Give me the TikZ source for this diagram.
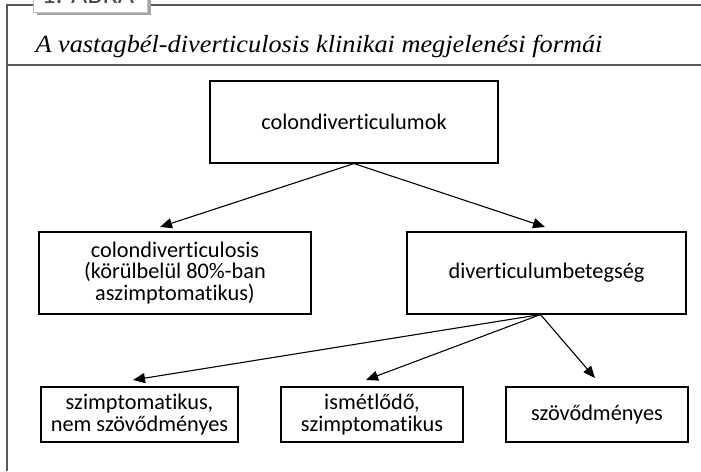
\documentclass[tikz,border=0pt]{standalone}
\usepackage{fontspec}
\setmainfont{Liberation Serif}
\newfontfamily\cimfont{Liberation Serif}[FakeStretch=1.065]
\newfontfamily\dobozfont{Carlito}[Ligatures=NoCommon]
\usetikzlibrary{arrows.meta}

\begin{document}
\begin{tikzpicture}[
            x=1pt, y=-1pt,
            doboz/.style={shape=rectangle, draw=black, line width=1.1pt, align=center, inner sep=0pt,
                font=\dobozfont\fontsize{22.3}{21.5}\selectfont},
            nagydoboz/.style={doboz, minimum height=82pt},
            kisdoboz/.style={doboz, minimum height=55pt},
            nyil/.style={line width=1.1pt, -{Triangle[length=12pt, width=10pt]}},
            keret/.style={draw=black!65, line width=1.1pt},
        ]
        \useasboundingbox (0,0) rectangle (701,471);

        \draw[keret] (7,471) -- (7,5) -- (33,5);
        \draw[keret] (150,5) -- (701,5);
        \draw[keret] (7,65) -- (701,65);
        \fill[black!35] (37,-5) rectangle (151,15);
        \filldraw[fill=white, draw=black!25] (33,-5) rectangle (147,12);
        \node[anchor=base west, text=black!70, font=\dobozfont\fontsize{28}{28}\selectfont] (abra) at (38,3) {1. ÁBRA};
        \node[anchor=base west, font=\cimfont\itshape\fontsize{24.7}{24.7}\selectfont] (cim) at (32,52) {A vastagbél-diverticulosis klinikai megjelenési formái};

        \node[nagydoboz, minimum width=288pt] (colon) at (354,122) {colondiverticulumok};
        \node[nagydoboz, minimum width=272pt] (diverticulosis) at (175,273) {colondiverticulosis\\(körülbelül 80\%-ban\\aszimptomatikus)};
        \node[nagydoboz, minimum width=279pt] (betegseg) at (546.5,273) {diverticulumbetegség};
        \node[kisdoboz, minimum width=197pt] (szimpt) at (139.5,414.5) {szimptomatikus,\\nem szövődményes};
        \node[kisdoboz, minimum width=182pt] (ismetlodo) at (372,414.5) {ismétlődő,\\szimptomatikus};
        \node[kisdoboz, minimum width=182pt] (szovodmenyes) at (597,414.5) {szövődményes};

        \coordinate (bal) at (160,227);
        \coordinate (jobb) at (545,227);
        \coordinate (b0) at ([xshift=-6pt]betegseg.south);
        \coordinate (also1) at (133,380);
        \coordinate (also2) at (366,380);
        \coordinate (also3) at (595,378);

        \draw[nyil] (colon.south) -- (bal);
        \draw[nyil] (colon.south) -- (jobb);
        \draw[nyil] (b0) -- (also1);
        \draw[nyil] (b0) -- (also2);
        \draw[nyil] (b0) -- (also3);

    \end{tikzpicture}
\end{document}
